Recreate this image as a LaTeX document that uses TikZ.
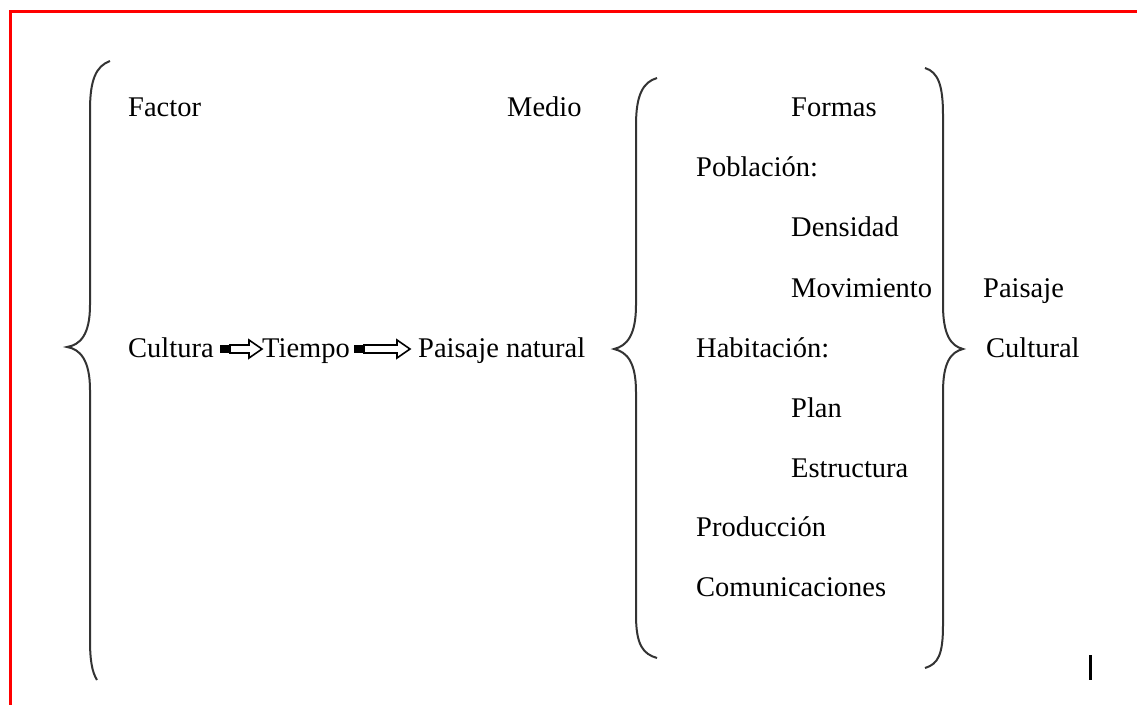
\documentclass[tikz,border=0pt]{standalone}
\usepackage{fontspec}
\setmainfont{Liberation Serif}
\usetikzlibrary{calc}
\begin{document}
\begin{tikzpicture}[x=1pt,y=-1pt,
  lbl/.style={anchor=base west,inner sep=0pt,font=\fontsize{28.5}{32}\selectfont},
  brace/.style={draw=black!80,line width=2pt},
  frame/.style={draw=red,line width=3pt}]
\useasboundingbox (0,0) rectangle (1137,704);
\draw[frame] (10,720) -- (10,11.5) -- (1150,11.5);
% left column
\node[lbl] (factor) at (128,116) {Factor};
\node[lbl] (medio) at (507,116) {Medio};
\node[lbl] (cultura) at (128,357) {Cultura};
\node[lbl] (tiempo) at (262,357) {Tiempo};
\node[lbl] (pnat) at (418,357) {Paisaje natural};
% middle column
\node[lbl] (formas) at (791,116) {Formas};
\node[lbl] (poblacion) at (696,176) {Población:};
\node[lbl] (densidad) at (791,236) {Densidad};
\node[lbl] (movimiento) at (791,297) {Movimiento};
\node[lbl] (habitacion) at (696,357) {Habitación:};
\node[lbl] (plan) at (791,417) {Plan};
\node[lbl] (estructura) at (791,477) {Estructura};
\node[lbl] (produccion) at (696,536) {Producción};
\node[lbl] (comunicaciones) at (696,596) {Comunicaciones};
% right
\node[lbl] (paisaje) at (983,297) {Paisaje};
\node[lbl] (cultural) at (986,357) {Cultural};
% arrows
\coordinate (a1s) at (220,349);
\coordinate (a1e) at (262,349);
\coordinate (a2s) at (354,349);
\coordinate (a2e) at (410,349);
\foreach \s/\e in {a1s/a1e,a2s/a2e}{
  \fill[black] ($(\s)+(0,-4)$) rectangle ($(\s)+(10,4)$);
  \draw[line width=1.6pt,fill=white,line join=miter]
    ($(\s)+(10,-4)$) -- ($(\e)+(-13,-4)$) -- ($(\e)+(-13,-9)$) -- (\e)
    -- ($(\e)+(-13,9)$) -- ($(\e)+(-13,4)$) -- ($(\s)+(10,4)$) -- cycle;
}
% braces
\draw[brace] (110,61) .. controls (96,66) and (90,80) .. (90,110)
  -- (90,305) .. controls (90,335) and (80,345) .. (67,347)
  .. controls (80,349) and (90,360) .. (90,390)
  -- (90,640) .. controls (90,660) and (92,672) .. (97,680);
\draw[brace] (657,78) .. controls (643,82) and (636,95) .. (636,125)
  -- (636,305) .. controls (636,335) and (627,346) .. (614,349)
  .. controls (627,352) and (636,362) .. (636,392)
  -- (636,615) .. controls (636,645) and (643,654) .. (657,658);
\draw[brace] (925,68) .. controls (938,72) and (943,85) .. (943,115)
  -- (943,305) .. controls (943,335) and (951,346) .. (963,349)
  .. controls (951,352) and (943,362) .. (943,392)
  -- (943,625) .. controls (943,655) and (938,664) .. (925,668);
% cursor mark
\draw[line width=3pt] (1090,655) -- (1090,680);
\end{tikzpicture}
\end{document}
